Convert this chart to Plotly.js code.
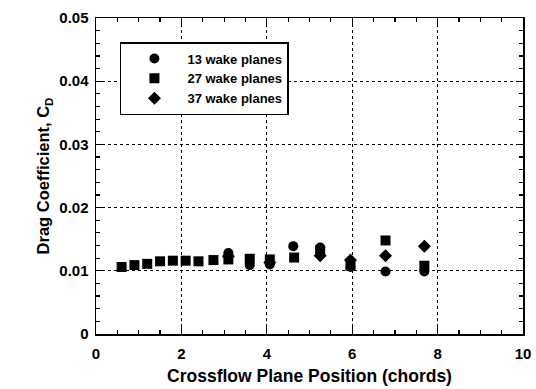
<!DOCTYPE html>
<html><head><meta charset="utf-8">
<script src="https://cdn.plot.ly/plotly-3.0.1.min.js"></script>
<style>html,body{margin:0;padding:0;background:#fff}#c{width:536px;height:389px}</style>
</head><body><div id="c"></div>
<script>
// 13 wake planes (circles)
const x13 = [3.1, 3.6, 4.07, 4.62, 5.25, 5.96, 6.78, 7.69];
const cd13 = [0.0128, 0.0109, 0.0110, 0.0139, 0.0137, 0.0106, 0.0099, 0.0099];
// 27 wake planes (squares)
const x27 = [0.6, 0.9, 1.2, 1.5, 1.8, 2.1, 2.4, 2.75, 3.1, 3.6, 4.07, 4.64, 5.25, 5.96, 6.78, 7.69];
const cd27 = [0.0106, 0.0109, 0.0111, 0.0115, 0.0116, 0.0116, 0.0115, 0.0117, 0.0118, 0.0119, 0.0118, 0.0121, 0.0132, 0.0108, 0.0148, 0.0108];
// 37 wake planes (diamonds)
const x37 = [3.1, 4.07, 5.25, 5.96, 6.78, 7.69];
const cd37 = [0.0123, 0.0113, 0.0124, 0.0117, 0.0124, 0.0139];

const names = ['13 wake planes', '27 wake planes', '37 wake planes'];
const F = 'Liberation Sans, Arial, sans-serif';

const traces = [
  {x: x13, y: cd13, name: names[0], mode: 'markers', type: 'scatter',
   marker: {symbol: 'circle', size: 10, color: '#000'}},
  {x: x27, y: cd27, name: names[1], mode: 'markers', type: 'scatter',
   marker: {symbol: 'square', size: 10, color: '#000'}},
  {x: x37, y: cd37, name: names[2], mode: 'markers', type: 'scatter',
   marker: {symbol: 'diamond', size: 10, color: '#000'}}
];

const axisCommon = {
  showline: true, linecolor: '#000', linewidth: 1.5, mirror: 'allticks',
  ticks: 'inside', ticklen: 7, tickcolor: '#000', tickwidth: 1.2,
  showgrid: true, gridcolor: '#000', griddash: 'dot', gridwidth: 1,
  zeroline: false,
  tickfont: {family: F, size: 15, color: '#000', weight: 'bold'}
};

const layout = {
  width: 536, height: 389,
  margin: {l: 96, r: 13, t: 18, b: 55},
  paper_bgcolor: '#fff', plot_bgcolor: '#fff',
  showlegend: true,
  legend: {x: 0.056, y: 0.924, xanchor: 'left', yanchor: 'top',
    bgcolor: '#fff', bordercolor: '#000', borderwidth: 1.5,
    font: {family: F, size: 13, color: '#000', weight: 'bold'},
    tracegroupgap: 0, itemwidth: 56},
  xaxis: Object.assign({}, axisCommon, {
    range: [0, 10], dtick: 2, tick0: 0, ticklabelstandoff: 5,
    minor: {dtick: 0.5, ticks: 'inside', ticklen: 4, tickcolor: '#000', showgrid: false},
    title: {text: 'Crossflow Plane Position (chords)', standoff: 9,
      font: {family: F, size: 17.5, color: '#000', weight: 'bold'}}
  }),
  yaxis: Object.assign({}, axisCommon, {
    range: [0, 0.05], dtick: 0.01, tick0: 0, ticklabelstandoff: 3,
    minor: {dtick: 0.002, ticks: 'inside', ticklen: 4, tickcolor: '#000', showgrid: false},
    title: {text: 'Drag Coefficient, C<sub>D</sub>', standoff: 5,
      font: {family: F, size: 16.5, color: '#000', weight: 'bold'}}
  })
};

Plotly.newPlot('c', traces, layout, {displayModeBar: false, staticPlot: true});
</script></body></html>
